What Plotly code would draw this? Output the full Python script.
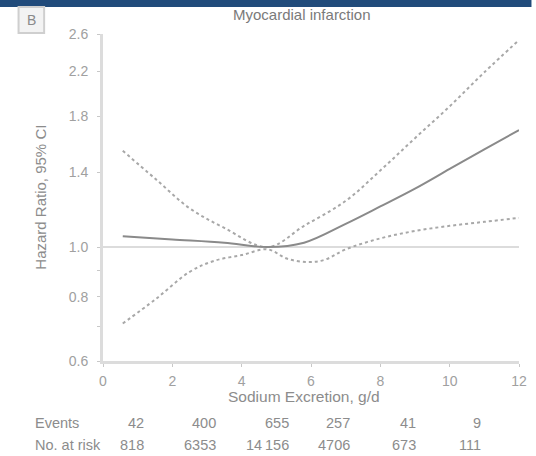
import plotly.graph_objects as go

# ---- data ----
hr_x = [0.57, 2.0, 3.5, 4.75, 5.8, 7.0, 8.0, 9.0, 10.0, 11.0, 12.0]
hr_y = [1.05, 1.035, 1.02, 1.0, 1.02, 1.11, 1.20, 1.30, 1.42, 1.55, 1.69]

upper_x = [0.57, 1.5, 2.5, 3.5, 4.75, 5.8, 7.0, 8.0, 9.0, 10.0, 11.0, 12.0]
upper_y = [1.54, 1.36, 1.19, 1.09, 1.0, 1.10, 1.23, 1.41, 1.63, 1.88, 2.19, 2.53]

lower_x = [0.57, 1.5, 2.5, 3.2, 4.0, 4.75, 5.3, 5.9, 6.4, 7.0, 8.0, 9.0, 10.0, 11.0, 12.0]
lower_y = [0.71, 0.79, 0.895, 0.94, 0.965, 0.99, 0.95, 0.935, 0.945, 0.99, 1.04, 1.075, 1.10, 1.12, 1.14]

x_ticks = [0, 2, 4, 6, 8, 10, 12]
y_ticks = [0.6, 0.7, 0.8, 0.9, 1.0, 1.4, 1.8, 2.2, 2.6]
y_ticktext = ["0.6", "", "0.8", "", "1.0", "1.4", "1.8", "2.2", "2.6"]

table_x = [1.245, 3.31, 5.43, 7.18, 9.08, 10.96]
events = ["42", "400", "655", "257", "41", "9"]
at_risk = ["818", "6353", "14\u2009156", "4706", "673", "111"]

FONT = "Liberation Sans, Arial, sans-serif"
TXT = "#8c8c8c"
TICK = "#a0a0a0"

fig = go.Figure()
fig.add_trace(go.Scatter(x=[0, 12], y=[1.0, 1.0], mode="lines",
                         line=dict(color="#dcdcdc", width=2), hoverinfo="skip"))
fig.add_trace(go.Scatter(x=upper_x, y=upper_y, mode="lines", line_shape="spline",
                         line=dict(color="#a8a8a8", width=2, dash="dot")))
fig.add_trace(go.Scatter(x=lower_x, y=lower_y, mode="lines", line_shape="spline",
                         line=dict(color="#a8a8a8", width=2, dash="dot")))
fig.add_trace(go.Scatter(x=hr_x, y=hr_y, mode="lines", line_shape="spline",
                         line=dict(color="#8a8a8a", width=2)))

ann = []
ann.append(dict(text="Myocardial infarction", x=0.479, y=1.061, xref="paper", yref="paper",
                showarrow=False, font=dict(size=15, color="#7a7a7a", family=FONT),
                xanchor="center", yanchor="middle"))
ann.append(dict(text="B", x=-0.172, y=1.043, xref="paper", yref="paper",
                showarrow=False, font=dict(size=14, color="#8a8a8a", family=FONT),
                xanchor="center", yanchor="middle"))
ann.append(dict(text="Hazard Ratio, 95% CI", x=-0.151, y=0.5, xref="paper", yref="paper",
                showarrow=False, textangle=-90, font=dict(size=15, color=TXT, family=FONT),
                xanchor="center", yanchor="middle"))
ann.append(dict(text="Sodium Excretion, g/d", x=0.483, y=-0.110, xref="paper", yref="paper",
                showarrow=False, font=dict(size=15.5, color=TXT, family=FONT),
                xanchor="center", yanchor="middle"))
ann.append(dict(text="Events", x=-0.168, y=-0.19, xref="paper", yref="paper",
                showarrow=False, font=dict(size=14.5, color=TXT, family=FONT),
                xanchor="left", yanchor="middle"))
ann.append(dict(text="No. at risk", x=-0.168, y=-0.257, xref="paper", yref="paper",
                showarrow=False, font=dict(size=14.5, color=TXT, family=FONT),
                xanchor="left", yanchor="middle"))
for xv, e, r in zip(table_x, events, at_risk):
    ann.append(dict(text=e, x=xv, y=-0.19, xref="x", yref="paper", showarrow=False,
                    font=dict(size=14.5, color=TXT, family=FONT), xanchor="right", yanchor="middle"))
    ann.append(dict(text=r, x=xv, y=-0.257, xref="x", yref="paper", showarrow=False,
                    font=dict(size=14.5, color=TXT, family=FONT), xanchor="right", yanchor="middle"))

shapes = [
    dict(type="rect", xref="paper", yref="paper", x0=-0.25, x1=1.03, y0=1.0826, y1=1.11,
         fillcolor="#214b7b", line=dict(width=0), layer="above"),
    dict(type="rect", xref="paper", yref="paper", x0=-0.203, x1=-0.1415, y0=1.003, y1=1.0826,
         fillcolor="#f3f3f3", line=dict(color="#cfcfcf", width=2)),
]

fig.update_layout(
    width=536, height=456,
    margin=dict(l=103, r=9, t=34, b=95),
    paper_bgcolor="white", plot_bgcolor="white",
    showlegend=False,
    annotations=ann, shapes=shapes,
    font=dict(family=FONT, color=TICK, size=14),
)
fig.update_xaxes(range=[0, 12], tickvals=x_ticks, showgrid=False, zeroline=False,
                 showline=True, linecolor="#dcdcdc", linewidth=3,
                 ticks="outside", ticklen=3, tickcolor="#c8c8c8", tickwidth=1,
                 ticklabelstandoff=2,
                 tickfont=dict(size=14, color=TICK, family=FONT))
fig.update_yaxes(type="log", range=[-0.2218, 0.415], tickvals=y_ticks, ticktext=y_ticktext,
                 showgrid=False, zeroline=False,
                 showline=True, linecolor="#dcdcdc", linewidth=3,
                 ticks="outside", ticklen=3, tickcolor="#c8c8c8", tickwidth=1,
                 ticklabelstandoff=6,
                 tickfont=dict(size=14, color=TICK, family=FONT))

fig.write_html("out.html")
